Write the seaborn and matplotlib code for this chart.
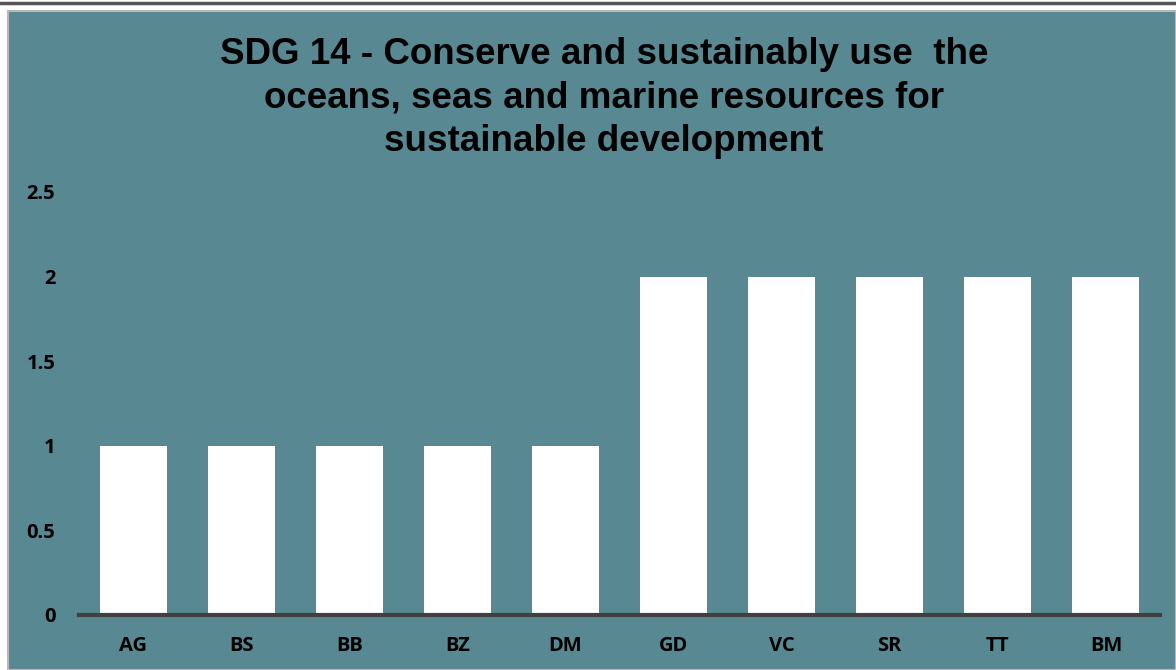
import numpy as np
import pandas as pd
import matplotlib
matplotlib.use("Agg")
import matplotlib.pyplot as plt
import seaborn as sns
from matplotlib.patches import Rectangle
from matplotlib.lines import Line2D

# data
countries = ["AG", "BS", "BB", "BZ", "DM", "GD", "VC", "SR", "TT", "BM"]
scores = [1, 1, 1, 1, 1, 2, 2, 2, 2, 2]
yticks = [0, 0.5, 1, 1.5, 2, 2.5]
ytick_labels = ["0", "0.5", "1", "1.5", "2", "2.5"]
title = ("SDG 14 - Conserve and sustainably use  the\n"
         "oceans, seas and marine resources for\n"
         "sustainable development")

df = pd.DataFrame({"country": countries, "score": scores})

teal = "#588891"
W, H = 1176, 670

sns.set_theme(style="white")
plt.rcParams["font.family"] = ["Open Sans", "DejaVu Sans"]

fig = plt.figure(figsize=(W / 100, H / 100), dpi=100)
fig.patch.set_facecolor("white")

# panel background + thin border, dark line on top
fig.patches.append(Rectangle((8 / W, 0), 1 - 8 / W, (H - 11) / H,
                             transform=fig.transFigure, facecolor=teal,
                             edgecolor="#b8b8b8", linewidth=1.5, zorder=-5))
fig.add_artist(Line2D([0, 1], [1 - 2.5 / H, 1 - 2.5 / H], color="#555555",
                      linewidth=2.5, transform=fig.transFigure))

ax = fig.add_axes([79 / W, (H - 615) / H, (1160 - 79) / W, (615 - 192) / H])
ax.set_facecolor("none")
ax.set_zorder(2)

sns.barplot(data=df, x="country", y="score", color="white", width=0.62,
            saturation=1, ax=ax, zorder=2)
for p in ax.patches:
    p.set_edgecolor("none")

ax.set_ylim(0, 2.5)
ax.set_xlim(-0.5, len(countries) - 0.5)
ax.set_yticks(yticks)
ax.set_yticklabels(ytick_labels, fontweight="bold", fontsize=14.5,
                   color="black", va="center_baseline")
ax.set_xticks(range(len(countries)))
ax.set_xticklabels(countries, fontweight="bold", fontsize=14.5, color="black")
ax.set_xlabel("")
ax.set_ylabel("")
ax.tick_params(axis="y", length=0, pad=17)
ax.tick_params(axis="x", length=0, pad=15)

for s in ["top", "right", "left"]:
    ax.spines[s].set_visible(False)
ax.spines["bottom"].set_color("#404040")
ax.spines["bottom"].set_linewidth(3)
ax.spines["bottom"].set_zorder(3)

fig.text(604 / W, 1 - 37 / H, title, ha="center", va="top", fontsize=26.5,
         fontweight="bold", family=["Liberation Sans", "DejaVu Sans"],
         linespacing=1.31, color="black")

fig.savefig("out.png", dpi=100, facecolor=fig.get_facecolor())
